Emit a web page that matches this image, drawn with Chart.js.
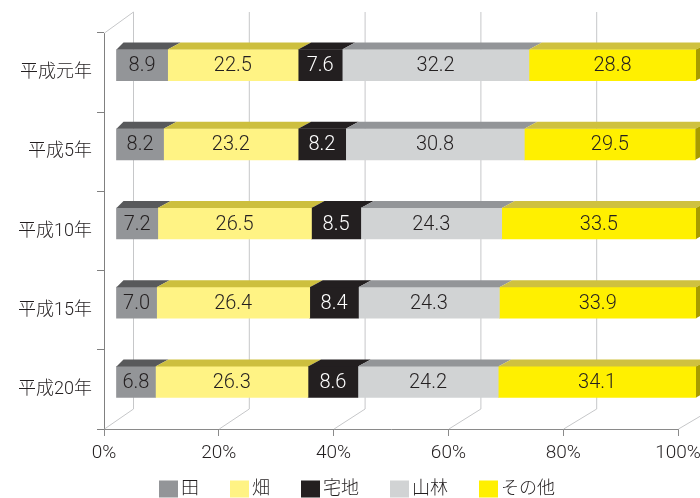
<!DOCTYPE html>
<html>
<head>
<meta charset="utf-8">
<script src="https://cdn.jsdelivr.net/npm/chart.js@4/dist/chart.umd.min.js"></script>
<style>
  body { margin: 0; background: #fff; }
</style>
</head>
<body>
<canvas id="myChart" width="700" height="498"></canvas>
<script>
// data (percent of land use)
const categories = ["平成元年", "平成5年", "平成10年", "平成15年", "平成20年"];
const seriesNames = ["田", "畑", "宅地", "山林", "その他"];
const paddy = [8.9, 8.2, 7.2, 7.0, 6.8];
const field = [22.5, 23.2, 26.5, 26.4, 26.3];
const residential = [7.6, 8.2, 8.5, 8.4, 8.6];
const forest = [32.2, 30.8, 24.3, 24.3, 24.2];
const other = [28.8, 29.5, 33.5, 33.9, 34.1];
const xTicks = [0, 20, 40, 60, 80, 100];

// styles
const frontColors = ["#939598", "#fff384", "#231f20", "#d1d3d4", "#fff000"];
const topColors = ["#58595b", "#cdbf3e", "#231f20", "#939598", "#cfc13f"];
const labelColors = ["#231f20", "#231f20", "#ffffff", "#231f20", "#231f20"];
const sideColor = "#a89c00";
const textColor = "#231f20";
const fontFamily = 'Roboto, "Noto Sans CJK JP", sans-serif';

// 3d look: bars sit a bit deeper than the front axis
const barShiftX = 12, barShiftY = -7.5, barStretch = 580 / 574;
const backShiftX = 29, backShiftY = -20, backStretch = 579 / 574;
const topDepth = 7;

function barX(chart, x) {
    const left = chart.chartArea.left;
    return left + barShiftX + (x - left) * barStretch;
}

const wallPlugin = {
    id: "wall",
    beforeDatasetsDraw(chart) {
        const ctx = chart.ctx;
        const a = chart.chartArea;
        const xs = chart.scales.x;
        ctx.save();
        ctx.strokeStyle = "#c6c7c9";
        ctx.lineWidth = 1;
        xTicks.forEach(v => {
            const xf = xs.getPixelForValue(v);
            const xb = a.left + backShiftX + (xf - a.left) * backStretch;
            ctx.beginPath();
            ctx.moveTo(xb + 0.5, a.top + backShiftY - 1);
            ctx.lineTo(xb + 0.5, a.bottom + backShiftY);
            ctx.lineTo(xf + 0.5, a.bottom);
            ctx.stroke();
        });
        ctx.beginPath();
        ctx.moveTo(a.left + 0.5, a.top);
        ctx.lineTo(a.left + backShiftX + 0.5, a.top + backShiftY - 1);
        ctx.stroke();
        ctx.restore();

        // bars themselves are drawn by Chart.js inside this transform
        ctx.save();
        ctx.translate(a.left + barShiftX, barShiftY);
        ctx.scale(barStretch, 1);
        ctx.translate(-a.left, 0);
    },
    afterDatasetsDraw(chart) {
        const ctx = chart.ctx;
        ctx.restore();
        ctx.save();
        const n = chart.data.datasets.length;
        for (let i = 0; i < n; i++) {
            const meta = chart.getDatasetMeta(i);
            meta.data.forEach((bar, j) => {
                const p = bar.getProps(["x", "y", "base", "height"], true);
                const x1 = barX(chart, p.base);
                const x2 = barX(chart, p.x);
                const yT = p.y + barShiftY - p.height / 2;
                const yB = p.y + barShiftY + p.height / 2;
                const dl = i === 0 ? 7 : 13;
                const dr = 13;
                // top face
                ctx.fillStyle = topColors[i];
                ctx.beginPath();
                ctx.moveTo(x1, yT);
                ctx.lineTo(x2, yT);
                ctx.lineTo(x2 + dr, yT - topDepth);
                ctx.lineTo(x1 + dl, yT - topDepth);
                ctx.closePath();
                ctx.fill();
                // right side face on the last segment
                if (i === n - 1) {
                    ctx.fillStyle = sideColor;
                    ctx.beginPath();
                    ctx.moveTo(x2, yT);
                    ctx.lineTo(x2 + dr, yT - topDepth);
                    ctx.lineTo(x2 + dr, yB - topDepth);
                    ctx.lineTo(x2, yB);
                    ctx.closePath();
                    ctx.fill();
                }
                // value label
                ctx.fillStyle = labelColors[i];
                ctx.font = "300 20px " + fontFamily;
                ctx.textAlign = "center";
                ctx.textBaseline = "middle";
                const value = chart.data.datasets[i].data[j];
                ctx.fillText(value.toFixed(1), (x1 + x2) / 2, (yT + yB) / 2 + 1);
            });
        }
        ctx.restore();
    }
};

// legend drawn by hand so the small box/text gap matches
const legendPlugin = {
    id: "legendRow",
    afterDraw(chart) {
        const ctx = chart.ctx;
        ctx.save();
        ctx.font = "300 18px " + fontFamily;
        const boxW = 19, boxH = 17, gapText = 3, gapItem = 31;
        const widths = seriesNames.map(s => boxW + gapText + ctx.measureText(s).width);
        const total = widths.reduce((s, w) => s + w, 0) + gapItem * (widths.length - 1);
        let x = 357 - total / 2;
        const yc = 489;
        seriesNames.forEach((name, i) => {
            ctx.fillStyle = frontColors[i];
            ctx.fillRect(x, yc - boxH / 2, boxW, boxH);
            ctx.fillStyle = textColor;
            ctx.textAlign = "left";
            ctx.textBaseline = "middle";
            ctx.fillText(name, x + boxW + gapText, yc);
            x += widths[i] + gapItem;
        });
        ctx.restore();
    }
};

const seriesData = [paddy, field, residential, forest, other];

const ctx = document.getElementById("myChart").getContext("2d");
new Chart(ctx, {
    type: "bar",
    data: {
        labels: categories,
        datasets: seriesNames.map((name, i) => ({
            label: name,
            data: seriesData[i],
            backgroundColor: frontColors[i],
            borderWidth: 0,
            barThickness: 31,
            clip: false,
        })),
    },
    options: {
        indexAxis: "y",
        responsive: false,
        animation: false,
        layout: { padding: { top: 33, right: 22, left: 0, bottom: 33 } },
        scales: {
            x: {
                stacked: true,
                min: 0,
                max: 100,
                afterBuildTicks: scale => {
                    scale.ticks = xTicks.map(v => ({ value: v }));
                },
                afterFit: scale => {
                    scale.height = 36;
                    scale.paddingRight = 0;
                    scale.paddingLeft = 0;
                },
                ticks: {
                    callback: v => v + "%",
                    color: textColor,
                    font: { family: fontFamily, size: 19, weight: 300 },
                    padding: 6,
                    maxRotation: 0,
                    autoSkip: false,
                },
                grid: { drawOnChartArea: false, drawTicks: true, tickLength: 7, color: "#8a8a8a" },
                border: { display: true, color: "#8a8a8a" },
            },
            y: {
                stacked: true,
                afterFit: scale => { scale.width = 104; },
                ticks: {
                    color: textColor,
                    font: { family: fontFamily, size: 18, weight: 300 },
                    padding: 5,
                },
                grid: { drawOnChartArea: false, drawTicks: true, tickLength: 7, color: "#808080", offset: true },
                border: { display: true, color: "#808080" },
            },
        },
        plugins: {
            legend: { display: false },
            tooltip: { enabled: false },
        },
    },
    plugins: [wallPlugin, legendPlugin],
});
</script>
</body>
</html>
